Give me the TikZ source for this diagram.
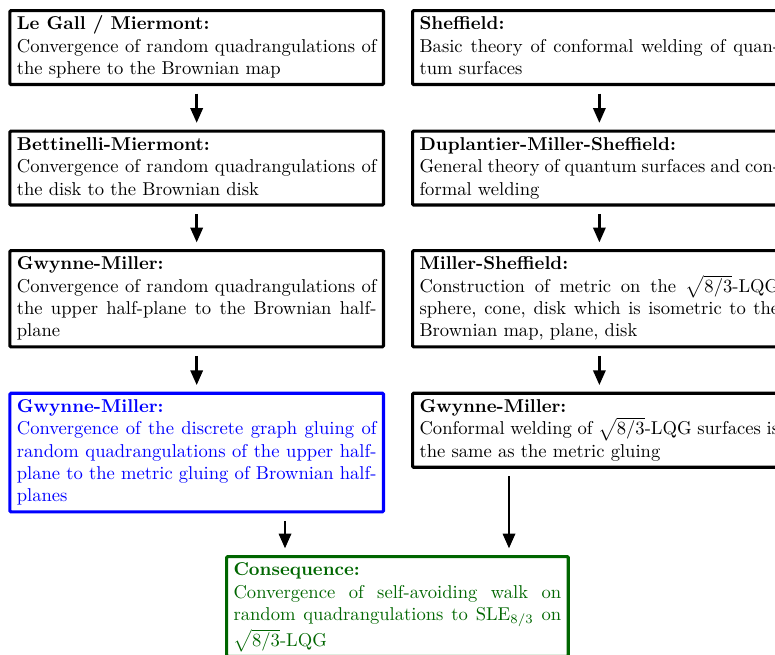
\documentclass[tikz,border=0pt]{standalone}
\usetikzlibrary{arrows.meta,calc}
\definecolor{cblue}{RGB}{0,0,255}
\definecolor{cgreen}{RGB}{0,102,0}
\newcommand{\topstr}{\rule{0pt}{8.5pt}}
\newcommand{\botstr}{\rule[-3.5pt]{0pt}{3.5pt}}
\begin{document}
\begin{tikzpicture}[x=0.538pt,y=-0.538pt,
  box/.style={draw, line width=1.7pt, rounded corners=0.6pt, anchor=north west,
    text width=193.5pt, inner xsep=3.75pt, inner ysep=1.9pt, align=justify},
  arr/.style={-{Triangle[length=8pt,width=6.5pt]}, line width=1.6pt,
    shorten <=4pt, shorten >=3.5pt}]
\useasboundingbox (0,0) rectangle (775,655);
\clip (0,0) rectangle (775,655);
% left column
\node[box] (lg) at (8.3,9) {\topstr\textbf{Le Gall / Miermont:}\\Convergence of random quadrangulations of the sphere to the Brownian map\botstr};
\node[box] (bm) at (8.3,129.5) {\topstr\textbf{Bettinelli-Miermont:}\\Convergence of random quadrangulations of the disk to the Brownian disk\botstr};
\node[box] (gm1) at (8.3,249) {\topstr\textbf{Gwynne-Miller:}\\Convergence of random quadrangulations of the upper half-plane to the Brownian half-plane\botstr};
\node[box, draw=cblue, text=cblue] (gm2) at (8.3,391.7) {\topstr\textbf{Gwynne-Miller:}\\Convergence of the discrete graph gluing of random quadrangulations of the upper half-plane to the metric gluing of Brownian half-planes\botstr};
% right column
\node[box] (sh) at (411,9) {\topstr\textbf{Sheffield:}\\Basic theory of conformal welding of quantum surfaces\botstr};
\node[box] (dms) at (411,129.5) {\topstr\textbf{Duplantier-Miller-Sheffield:}\\General theory of quantum surfaces and conformal welding\botstr};
\node[box] (ms) at (411,249) {\topstr\textbf{Miller-Sheffield:}\\Construction of metric on the $\sqrt{8/3}$-LQG sphere, cone, disk which is isometric to the Brownian map, plane, disk\botstr};
\node[box] (gm3) at (411,391.7) {\topstr\textbf{Gwynne-Miller:}\\Conformal welding of $\sqrt{8/3}$-LQG surfaces is the same as the metric gluing\botstr};
% consequence
\node[box, draw=cgreen, text=cgreen, text width=176.3pt] (cons) at (225,555) {\topstr\textbf{Consequence:}\\Convergence of self-avoiding walk on random quadrangulations to $\mathrm{SLE}_{8/3}$ on $\sqrt{8/3}$-LQG\botstr};
\coordinate (xa) at (285,0);
\coordinate (xb) at (509,0);
% arrows
\draw[arr] (lg.south) -- (bm.north);
\draw[arr] (bm.south) -- (gm1.north);
\draw[arr] (gm1.south) -- (gm2.north);
\draw[arr] (sh.south) -- (dms.north);
\draw[arr] (dms.south) -- (ms.north);
\draw[arr] (ms.south) -- (gm3.north);
\draw[arr] (gm2.south -| xa) -- (cons.north -| xa);
\draw[arr] (gm3.south -| xb) -- (cons.north -| xb);
\end{tikzpicture}
\end{document}
